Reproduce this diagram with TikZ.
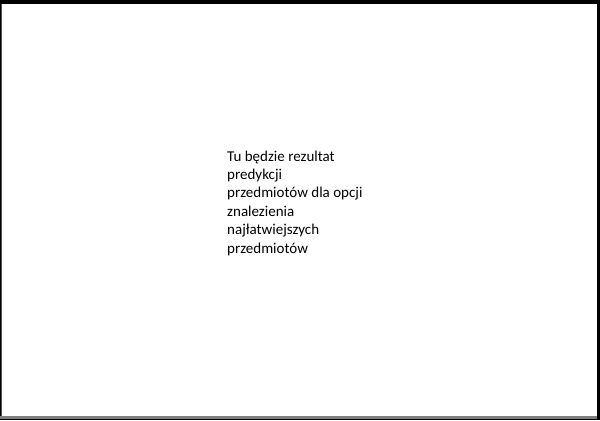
\documentclass[tikz,border=0pt]{standalone}
\usepackage{fontspec}
\setmainfont{Carlito}
\begin{document}
\begin{tikzpicture}[x=1bp,y=1bp,
  txtstyle/.style={anchor=base west,inner sep=0pt,align=left,text=black,
    font=\fontsize{15bp}{18.4bp}\selectfont}]
\useasboundingbox (0,0) rectangle (600,420);
\fill[white] (0,0) rectangle (600,420);
% frame
\fill[black] (0,416) rectangle (600,420);
\fill[black] (0,0) rectangle (1,420);
\fill[gray!70!black] (1,0) rectangle (2,416);
\fill[black] (597,0) rectangle (600,420);
\fill[gray] (0,1) rectangle (597,4);
\fill[black] (0,0) rectangle (600,1);
% last line baseline placed; lines above follow at 18.4bp
\node[txtstyle] (txt) at (227,167) {Tu będzie rezultat\\predykcji\\przedmiotów dla opcji\\znalezienia\\najłatwiejszych\\przedmiotów};
\end{tikzpicture}
\end{document}
